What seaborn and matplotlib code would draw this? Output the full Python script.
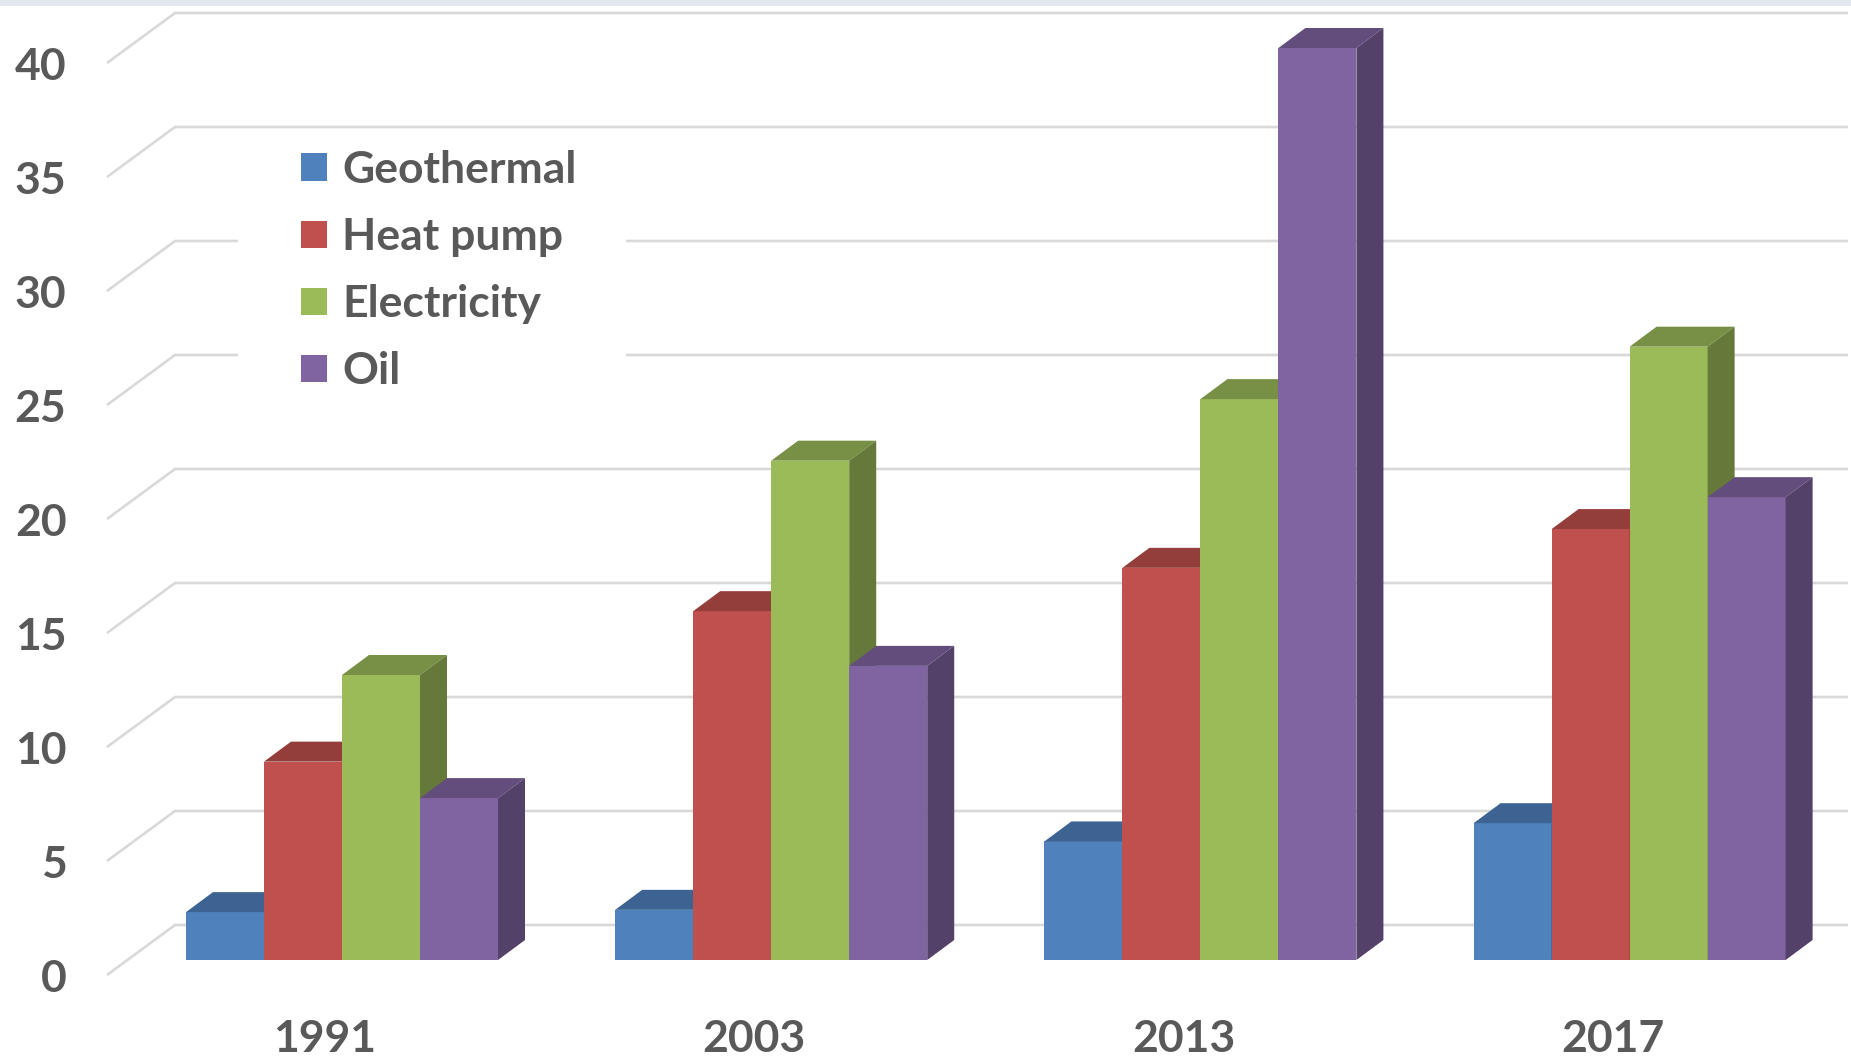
import numpy as np
import pandas as pd
import seaborn as sns
import matplotlib.pyplot as plt
from matplotlib.patches import Polygon, Rectangle, Patch
from matplotlib.transforms import ScaledTranslation

# ---- data -------------------------------------------------------------
years = ["1991", "2003", "2013", "2017"]
sources = ["Geothermal", "Heat pump", "Electricity", "Oil"]
geothermal = [2.1, 2.2, 5.2, 6.0]
heat_pump = [8.7, 15.3, 17.2, 18.9]
electricity = [12.5, 21.9, 24.6, 26.9]
oil = [7.1, 12.9, 40.0, 20.3]
y_ticks = [0, 5, 10, 15, 20, 25, 30, 35, 40]

colors = ["#4F81BD", "#C0504D", "#9BBB59", "#8064A2"]
text_color = "#595959"
grid_color = "#D9D9D9"

df = pd.DataFrame({
    "Year": years * 4,
    "Source": np.repeat(sources, len(years)),
    "Value": geothermal + heat_pump + electricity + oil,
})

# ---- figure geometry (pixels) ----------------------------------------
W, H = 1851, 1060
DPI = 100
AX_LEFT, AX_BOTTOM_FROM_TOP = 72, 1000
PX_PER_CAT = 429.2          # horizontal distance between year groups
PX_PER_UNIT = 22.8          # vertical pixels per unit of value
FIRST_CENTER = 342          # x of first group centre
ZERO_Y = 960                # y (from top) of bar baseline
DEPTH_PX = (27, 20)         # oblique depth of each bar (right, up)
FRONT_DIAG_X, BACK_WALL_X = 107, 175
FRONT_DROP, BACK_RISE = 15, 35
RIGHT_EDGE = 1848

sns.set_theme(style="white")
plt.rcParams["font.family"] = ["Lato", "DejaVu Sans"]

fig = plt.figure(figsize=(W / DPI, H / DPI), dpi=DPI)
fig.patch.set_facecolor("white")
ax = fig.add_axes([AX_LEFT / W, (H - AX_BOTTOM_FROM_TOP) / H,
                   (W - AX_LEFT) / W, AX_BOTTOM_FROM_TOP / H])

sns.barplot(data=df, x="Year", y="Value", hue="Source", hue_order=sources,
            palette=colors, width=0.727, saturation=1, errorbar=None,
            linewidth=0, legend=False, ax=ax)

def px_to_x(px):
    return (px - FIRST_CENTER) / PX_PER_CAT

ax.set_xlim(px_to_x(AX_LEFT), px_to_x(W))
ax.set_ylim((ZERO_Y - AX_BOTTOM_FROM_TOP) / PX_PER_UNIT, ZERO_Y / PX_PER_UNIT)
ax.set_facecolor("none")
for s in ax.spines.values():
    s.set_visible(False)
ax.grid(False)
ax.set_xlabel("")
ax.set_ylabel("")

# ---- perspective gridlines on the back wall ---------------------------
xf, xb, xr = px_to_x(FRONT_DIAG_X), px_to_x(BACK_WALL_X), px_to_x(RIGHT_EDGE)
drop = FRONT_DROP / PX_PER_UNIT
rise = BACK_RISE / PX_PER_UNIT
for v in y_ticks:
    ax.plot([xf, xb, xr], [v - drop, v + rise, v + rise], color=grid_color,
            lw=1.9, zorder=0.5, solid_joinstyle="miter", solid_capstyle="butt")

# white legend area masking the gridlines behind it
mask = Rectangle((238 / W, 1 - 395 / H), (626 - 238) / W, (395 - 136) / H,
                 transform=fig.transFigure, facecolor="white",
                 edgecolor="none", zorder=0.8)
ax.add_patch(mask)

# ---- 3D faces on each bar --------------------------------------------
def shade(c, f):
    return tuple(min(1, ch * f) for ch in c[:3])

dx = DEPTH_PX[0] / PX_PER_CAT
dy = DEPTH_PX[1] / PX_PER_UNIT
bars = sorted([p for p in ax.patches if p is not mask and p.get_width() > 0],
              key=lambda p: p.get_x())
for i, p in enumerate(bars):
    x0, w, h = p.get_x(), p.get_width(), p.get_height()
    fc = p.get_facecolor()
    z = 2 + i * 0.01
    p.set_zorder(z)
    top = Polygon([(x0, h), (x0 + w, h), (x0 + w + dx, h + dy), (x0 + dx, h + dy)],
                  closed=True, facecolor=shade(fc, 0.77), edgecolor="none", zorder=z)
    side = Polygon([(x0 + w, 0), (x0 + w + dx, dy), (x0 + w + dx, h + dy), (x0 + w, h)],
                   closed=True, facecolor=shade(fc, 0.65), edgecolor="none", zorder=z)
    ax.add_patch(top)
    ax.add_patch(side)

# ---- ticks -------------------------------------------------------------
ax.set_yticks(y_ticks)
ax.set_yticklabels([str(v) for v in y_ticks])
ax.tick_params(axis="both", length=0, labelsize=32, labelcolor=text_color)
ax.tick_params(axis="y", pad=4)
ax.tick_params(axis="x", pad=14)
down = ScaledTranslation(0, -FRONT_DROP / DPI, fig.dpi_scale_trans)
left = ScaledTranslation(-17 / DPI, 0, fig.dpi_scale_trans)
for lab in ax.get_yticklabels():
    lab.set_fontweight("bold")
    lab.set_transform(lab.get_transform() + down)
for lab in ax.get_xticklabels():
    lab.set_fontweight("bold")
    lab.set_transform(lab.get_transform() + left)

# ---- legend ------------------------------------------------------------
handles = [Patch(facecolor=c, edgecolor="none") for c in colors]
leg = ax.legend(handles, sources, loc="upper left",
                bbox_to_anchor=(301 / W, 1 - 150 / H), bbox_transform=fig.transFigure,
                frameon=False, prop={"size": 32, "weight": "bold"},
                handlelength=0.58, handleheight=0.58, handletextpad=0.34,
                labelspacing=0.61, borderpad=0, borderaxespad=0)
for t in leg.get_texts():
    t.set_color(text_color)
leg.set_zorder(5)

# thin band along the top edge
fig.patches.append(Rectangle((0, 1 - 6 / H), 1, 6 / H, transform=fig.transFigure,
                             facecolor="#E3E8EF", edgecolor="none"))

fig.savefig("out.png", dpi=DPI)
